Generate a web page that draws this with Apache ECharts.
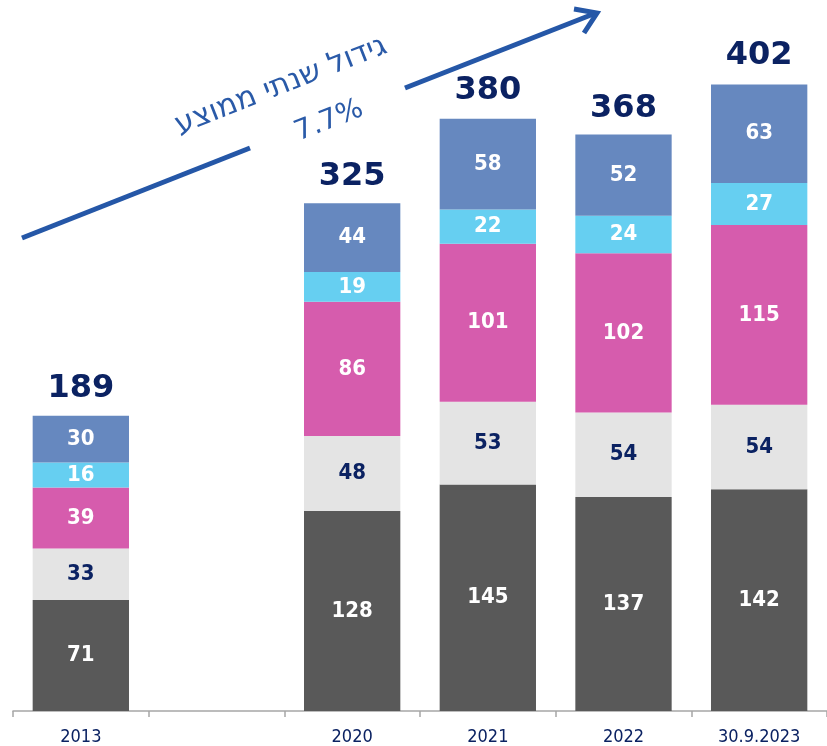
<!DOCTYPE html>
<html>
<head>
<meta charset="utf-8">
<script src="https://cdn.jsdelivr.net/npm/echarts@6/dist/echarts.min.js"></script>
<style>
  html, body { margin: 0; padding: 0; background: #fff; }
  #main { width: 827px; height: 746px; }
</style>
</head>
<body>
<div id="main"></div>
<script>
// categories (empty slot between 2013 and 2020)
const categories = ['2013', '', '2020', '2021', '2022', '30.9.2023']
// stacked segments, bottom to top
const darkGray = [71, '-', 128, 145, 137, 142]
const lightGray = [33, '-', 48, 53, 54, 54]
const pink = [39, '-', 86, 101, 102, 115]
const cyan = [16, '-', 19, 22, 24, 27]
const blue = [30, '-', 44, 58, 52, 63]
// totals shown above the bars
const totals = [189, '-', 325, 380, 368, 402]

const growthTitle = 'גידול שנתי ממוצע'
const growthValue = '7.7%'

const navy = '#0b2262'
const labelFont = 'DejaVu Sans Condensed'

function segment(name, data, color, textColor) {
    return {
        name: name,
        type: 'bar',
        stack: 'all',
        data: data,
        barWidth: '71%',
        itemStyle: { color: color },
        label: {
            show: true,
            position: 'inside',
            color: textColor,
            fontFamily: labelFont,
            fontWeight: 'bold',
            fontSize: 22
        }
    }
}

const myChart = echarts.init(document.getElementById('main'))
const option = {
    animation: false,
    grid: { left: 13, top: 11, width: 822, height: 702 },
    xAxis: {
        type: 'category',
        data: categories,
        axisLine: { lineStyle: { color: '#a6a6a6', width: 1.5 } },
        axisTick: { show: true, length: 6, lineStyle: { color: '#a6a6a6', width: 1.5 } },
        axisLabel: {
            color: navy,
            fontFamily: labelFont,
            fontSize: 18,
            margin: 17
        }
    },
    yAxis: {
        type: 'value',
        min: 0,
        max: 448,
        show: false,
        splitLine: { show: false }
    },
    series: [
        segment('a', darkGray, '#595959', '#ffffff'),
        segment('b', lightGray, '#e4e4e4', navy),
        segment('c', pink, '#d65cad', '#ffffff'),
        segment('d', cyan, '#66cff1', '#ffffff'),
        segment('e', blue, '#6688bf', '#ffffff'),
        {
            // totals
            type: 'scatter',
            data: totals,
            symbolSize: 0,
            itemStyle: { opacity: 1 },
            label: {
                show: true,
                position: 'top',
                distance: 11,
                color: navy,
                fontFamily: 'DejaVu Sans',
                fontWeight: 'bold',
                fontSize: 32
            }
        }
    ],
    graphic: [
        {
            type: 'line',
            shape: { x1: 22, y1: 238, x2: 250, y2: 148 },
            style: { stroke: '#2557a7', lineWidth: 5 }
        },
        {
            type: 'line',
            shape: { x1: 405, y1: 88, x2: 596, y2: 13 },
            style: { stroke: '#2557a7', lineWidth: 5 }
        },
        {
            type: 'polyline',
            shape: { points: [[574, 9], [597, 13], [584, 33]] },
            style: { stroke: '#2557a7', lineWidth: 5, fill: null, lineJoin: 'miter' }
        },
        {
            type: 'text',
            x: 281, y: 86,
            rotation: 0.374,
            style: {
                text: growthTitle,
                font: '30px "DejaVu Sans"',
                fill: '#2a5aa8',
                align: 'center',
                verticalAlign: 'middle'
            }
        },
        {
            type: 'text',
            x: 329, y: 121,
            rotation: 0.374,
            style: {
                text: growthValue,
                font: '28px "DejaVu Sans"',
                fill: '#2a5aa8',
                align: 'center',
                verticalAlign: 'middle'
            }
        }
    ]
}
myChart.setOption(option)
</script>
</body>
</html>
